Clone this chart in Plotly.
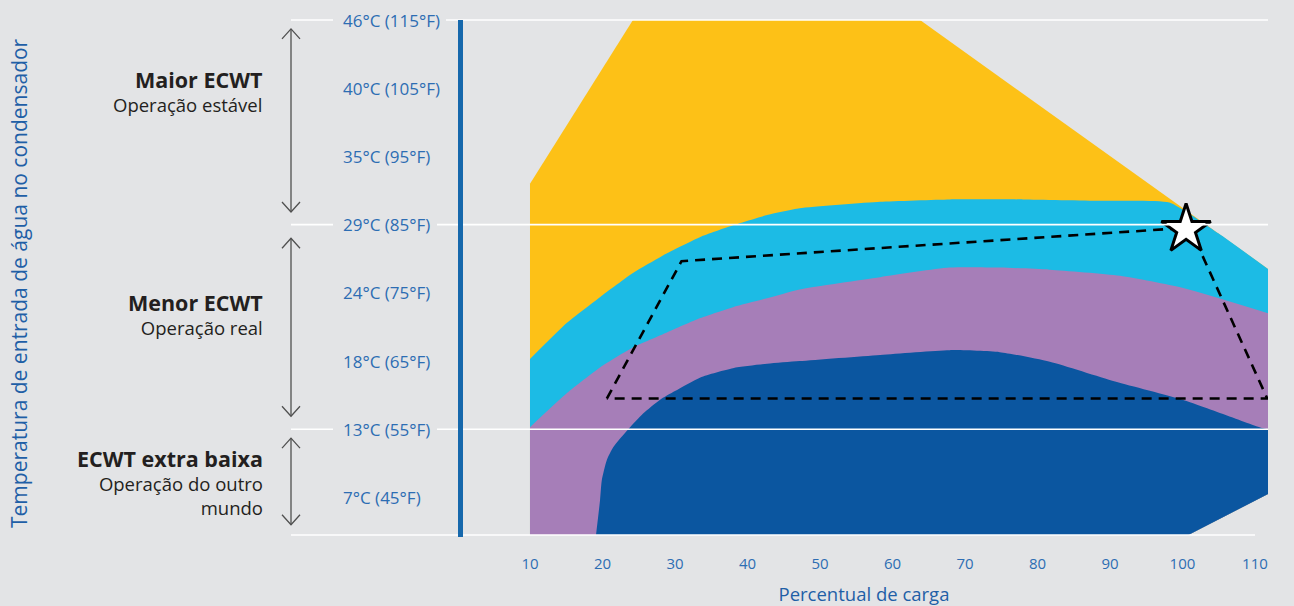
import plotly.graph_objects as go

# ---------------- data ----------------
load_ticks = [10, 20, 30, 40, 50, 60, 70, 80, 90, 100, 110]
temp_tick_vals = [115, 105, 95, 85, 75, 65, 55, 45]
temp_tick_text = ["46°C (115°F)", "40°C (105°F)", "35°C (95°F)", "29°C (85°F)",
                  "24°C (75°F)", "18°C (65°F)", "13°C (55°F)", "7°C (45°F)"]
band_lines = [115, 85, 55]
bottom_line = 39.5

# outer envelope (yellow) upper boundary
env_x = [10, 24.2, 63.8, 111.8]
env_y = [91.0, 115, 115, 78.5]
# common lower boundary of the envelope
base_x = [10, 100.8, 111.8]
base_y = [39.5, 39.5, 45.5]

# cyan band upper boundary
cyan_x = [10, 15.1, 19.7, 24.2, 28.9, 33.5, 38.0, 42.7, 47.2, 58.3, 67.9, 78.0, 88.6, 98.2, 105.0, 111.8]
cyan_y = [65.3, 70.6, 74.4, 77.9, 80.8, 83.2, 84.9, 86.4, 87.4, 88.35, 88.7, 88.7, 88.5, 88.25, 83.7, 78.5]

# purple band upper boundary
purple_x = [10, 15.1, 19.7, 24.2, 28.9, 33.5, 38.0, 42.7, 47.2, 58.3, 67.9, 74.8, 81.7, 91.4, 100.1, 111.8]
purple_y = [55.3, 60.3, 64.1, 67.0, 69.2, 71.3, 72.9, 74.2, 75.5, 77.3, 78.7, 78.7, 78.4, 77.5, 75.7, 72.0]

# dark blue band upper boundary
blue_x = [19.1, 19.66, 19.9, 20.6, 21.5, 23.56, 25.6, 27.9, 30.0, 33.5, 38.0, 42.7, 47.2, 58.3, 67.9, 74.8, 81.7, 90.7, 100.1, 111.1, 111.8]
blue_y = [39.45, 44.6, 47.5, 50.5, 52.4, 55.0, 57.3, 59.3, 60.6, 62.6, 63.95, 64.6, 65.0, 65.9, 66.6, 66.3, 64.9, 62.0, 59.3, 55.15, 55.0]
blue_base_x = [19.1, 100.8, 111.8]
blue_base_y = [39.5, 39.5, 45.5]

# dashed operating envelope
dash_x = [20.6, 30.9, 101.0, 111.7, 20.6]
dash_y = [59.5, 79.65, 84.56, 59.5, 59.5]

# design point (star)
star_x = [100.5]
star_y = [84.3]

# band arrows (temperature spans)
arrow_spans = [(113.7, 86.85), (83.0, 56.9), (53.7, 41.0)]

# band labels
band_titles = ["Maior ECWT", "Menor ECWT", "ECWT extra baixa"]
band_subtitles = [["Operação estável"], ["Operação real"], ["Operação do outro", "mundo"]]

x_title = "Percentual de carga"
y_title = "Temperatura de entrada de água no condensador"

# ---------------- styling ----------------
BG = "#e3e4e6"
YELLOW = "#fdc117"
CYAN = "#1cbbe5"
PURPLE = "#a67eb8"
DBLUE = "#0b56a0"
LABEL_BLUE = "#2d6db3"
TITLE_BLUE = "#1f5fa6"
DARK = "#231f20"
FONT = "Open Sans"

W, H = 1294, 606
ML, MR, MT, MB = 460, 26, 18, 69
PW = W - ML - MR
PH = H - MT - MB


def px_to_paper_x(p):
    return (p - ML) / PW


def px_to_paper_y(p):
    return (H - MB - p) / PH


fig = go.Figure()


def add_band(top_x, top_y, bx, by, color, spline, smoothing=0.6):
    fig.add_trace(go.Scatter(x=bx, y=by, mode="lines", line=dict(width=0),
                             hoverinfo="skip", showlegend=False))
    fig.add_trace(go.Scatter(x=top_x, y=top_y, mode="lines",
                             line=dict(width=0, shape="spline" if spline else "linear",
                                       smoothing=smoothing),
                             fill="tonexty", fillcolor=color,
                             hoverinfo="skip", showlegend=False))


add_band(env_x, env_y, base_x, base_y, YELLOW, False)
add_band(cyan_x, cyan_y, base_x, base_y, CYAN, True, 0.45)
add_band(purple_x, purple_y, base_x, base_y, PURPLE, True)
add_band(blue_x, blue_y, blue_base_x, blue_base_y, DBLUE, True)

fig.add_trace(go.Scatter(x=dash_x, y=dash_y, mode="lines",
                         line=dict(color="black", width=2.6, dash="10px,7px"),
                         hoverinfo="skip", showlegend=False))

fig.add_trace(go.Scatter(x=star_x, y=star_y, mode="markers",
                         marker=dict(symbol="star", size=37, color="white",
                                     line=dict(color="black", width=3)),
                         hoverinfo="skip", showlegend=False))

shapes = []
# gridlines (segmented around the labels)
gap_end_px = {115: 446, 85: 437, 55: 437}
for v in band_lines:
    shapes.append(dict(type="line", xref="paper", yref="y",
                       x0=px_to_paper_x(291), x1=px_to_paper_x(333), y0=v, y1=v,
                       line=dict(color="white", width=1.6), layer="above"))
    shapes.append(dict(type="line", xref="paper", yref="y",
                       x0=px_to_paper_x(gap_end_px[v]), x1=1.0, y0=v, y1=v,
                       line=dict(color="white", width=1.6), layer="above"))
shapes.append(dict(type="line", xref="paper", yref="y",
                   x0=px_to_paper_x(291), x1=px_to_paper_x(1255), y0=bottom_line, y1=bottom_line,
                   line=dict(color="white", width=1.6), layer="above"))
# blue vertical bar
shapes.append(dict(type="line", xref="paper", yref="y",
                   x0=px_to_paper_x(460.5), x1=px_to_paper_x(460.5), y0=115, y1=39.2,
                   line=dict(color="#1668ac", width=5), layer="above"))
# arrows
ax_paper = px_to_paper_x(291)
for top, bot in arrow_spans:
    shapes.append(dict(type="line", xref="paper", yref="y",
                       x0=ax_paper, x1=ax_paper, y0=top, y1=bot,
                       line=dict(color="#505050", width=1.3), layer="above"))
    shapes.append(dict(type="path", xref="paper", yref="y",
                       xsizemode="pixel", ysizemode="pixel",
                       xanchor=ax_paper, yanchor=top,
                       path="M-9,-10L0,0L9,-10",
                       line=dict(color="#505050", width=1.3), layer="above"))
    shapes.append(dict(type="path", xref="paper", yref="y",
                       xsizemode="pixel", ysizemode="pixel",
                       xanchor=ax_paper, yanchor=bot,
                       path="M-9,10L0,0L9,10",
                       line=dict(color="#505050", width=1.3), layer="above"))

annotations = []
# y tick labels
for v, t in zip(temp_tick_vals, temp_tick_text):
    annotations.append(dict(xref="paper", yref="y", x=px_to_paper_x(341), y=v,
                            text=t, showarrow=False, xanchor="left", yanchor="middle",
                            font=dict(family=FONT, size=17, color=LABEL_BLUE)))

# band labels (one block per band)
block_center_px = [91.5, 313.5, 481.5]
for tt, subs, cp in zip(band_titles, band_subtitles, block_center_px):
    txt = "<span style='font-size:21.5px'><b>" + tt + "</b></span><br>" + "<br>".join(subs)
    annotations.append(dict(xref="paper", yref="paper", x=px_to_paper_x(265), y=px_to_paper_y(cp),
                            text=txt, showarrow=False, xanchor="right", yanchor="middle",
                            align="right",
                            font=dict(family=FONT, size=18.5, color=DARK)))

# y title
annotations.append(dict(xref="paper", yref="paper", x=px_to_paper_x(19), y=px_to_paper_y(283),
                        text=y_title, showarrow=False, textangle=-90,
                        xanchor="center", yanchor="middle",
                        font=dict(family=FONT, size=21, color=TITLE_BLUE)))

fig.update_layout(
    width=W, height=H,
    margin=dict(l=ML, r=MR, t=MT, b=MB, autoexpand=False),
    paper_bgcolor=BG, plot_bgcolor=BG,
    showlegend=False,
    shapes=shapes, annotations=annotations,
    xaxis=dict(range=[0.345, 111.8], tickvals=load_ticks,
               ticktext=[str(v) for v in load_ticks],
               showgrid=False, zeroline=False, showline=False, automargin=False,
               ticks="outside", ticklen=13, tickcolor="rgba(0,0,0,0)",
               tickfont=dict(family=FONT, size=15, color=LABEL_BLUE),
               title=dict(text=x_title, standoff=17,
                          font=dict(family=FONT, size=18.5, color=TITLE_BLUE))),
    yaxis=dict(range=[39.2, 115.3], showticklabels=False, showgrid=False,
               zeroline=False, showline=False, ticks="", automargin=False),
)

fig.write_html(
    "out.html",
    config={"displayModeBar": False},
    post_script="document.body.style.margin='0';"
                "document.body.style.backgroundColor='" + BG + "';"
                "document.documentElement.style.overflow='hidden';",
)
